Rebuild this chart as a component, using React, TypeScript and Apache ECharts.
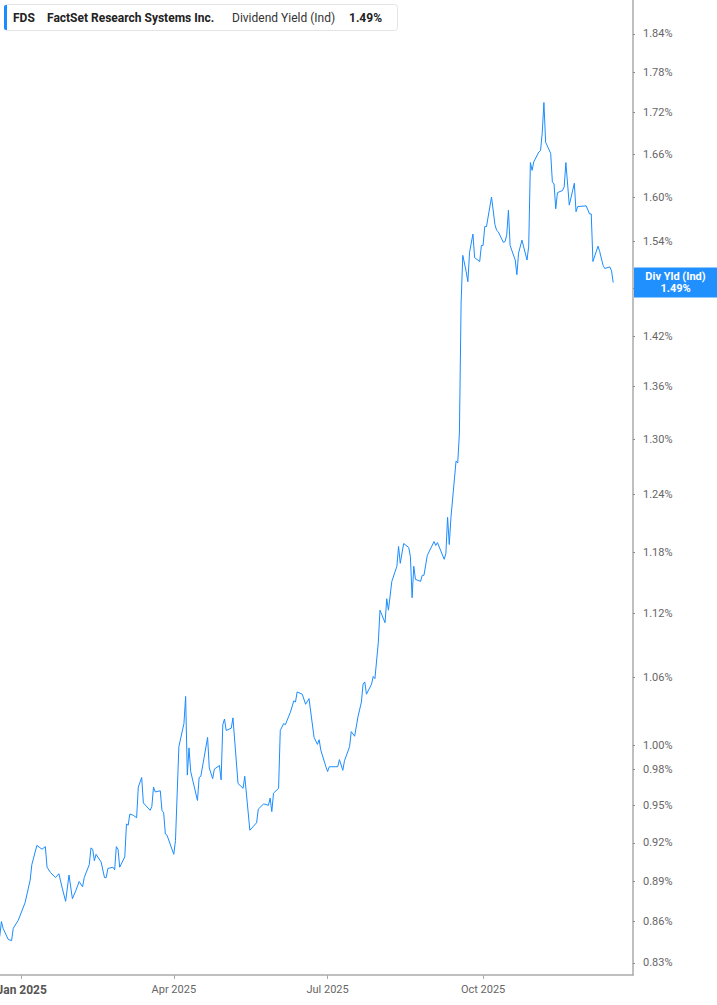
import React, { useEffect, useRef } from 'react';
import * as echarts from 'echarts';

const dates: string[] = [
  '2024-12-19','2024-12-20','2024-12-21','2024-12-24','2024-12-26','2024-12-27','2024-12-30',
  '2025-01-03','2025-01-06','2025-01-07','2025-01-10','2025-01-13','2025-01-15','2025-01-16','2025-01-18',
  '2025-01-21','2025-01-23','2025-01-25','2025-01-27','2025-01-29','2025-01-31',
  '2025-02-02','2025-02-04','2025-02-06','2025-02-07','2025-02-10','2025-02-11','2025-02-12','2025-02-13','2025-02-14',
  '2025-02-17','2025-02-19','2025-02-20','2025-02-21','2025-02-24','2025-02-25','2025-02-26','2025-02-27','2025-02-28',
  '2025-03-03','2025-03-04','2025-03-05','2025-03-06','2025-03-08','2025-03-10','2025-03-11','2025-03-13','2025-03-14',
  '2025-03-18','2025-03-19','2025-03-20','2025-03-21','2025-03-24','2025-03-25','2025-03-26','2025-03-27','2025-03-28',
  '2025-04-01','2025-04-02','2025-04-04','2025-04-07','2025-04-08','2025-04-09','2025-04-10','2025-04-11',
  '2025-04-15','2025-04-16','2025-04-17','2025-04-21','2025-04-22','2025-04-24','2025-04-25','2025-04-28','2025-04-29','2025-04-30',
  '2025-05-01','2025-05-02','2025-05-05','2025-05-06','2025-05-09','2025-05-12','2025-05-13','2025-05-16','2025-05-18',
  '2025-05-20','2025-05-21','2025-05-24','2025-05-25','2025-05-27','2025-05-28','2025-05-29','2025-05-30',
  '2025-06-02','2025-06-03','2025-06-05','2025-06-06','2025-06-09','2025-06-11','2025-06-12','2025-06-13','2025-06-16',
  '2025-06-18','2025-06-20','2025-06-23','2025-06-25','2025-06-26','2025-06-27','2025-06-30',
  '2025-07-01','2025-07-02','2025-07-07','2025-07-08','2025-07-10','2025-07-11','2025-07-14','2025-07-15','2025-07-17',
  '2025-07-19','2025-07-21','2025-07-22','2025-07-23','2025-07-24','2025-07-27','2025-07-28','2025-07-29','2025-07-31',
  '2025-08-01','2025-08-04','2025-08-05','2025-08-06','2025-08-08','2025-08-11','2025-08-12','2025-08-13','2025-08-15',
  '2025-08-18','2025-08-19','2025-08-20','2025-08-21','2025-08-22','2025-08-25','2025-08-26','2025-08-27','2025-08-29',
  '2025-09-02','2025-09-03','2025-09-04','2025-09-08','2025-09-09','2025-09-10','2025-09-11','2025-09-12',
  '2025-09-15','2025-09-16','2025-09-17','2025-09-18','2025-09-19','2025-09-21','2025-09-22','2025-09-23','2025-09-25',
  '2025-09-26','2025-09-29','2025-09-30',
  '2025-10-01','2025-10-02','2025-10-03','2025-10-06','2025-10-08','2025-10-09','2025-10-10','2025-10-13','2025-10-14',
  '2025-10-15','2025-10-16','2025-10-17','2025-10-20','2025-10-21','2025-10-22','2025-10-24','2025-10-27','2025-10-28',
  '2025-10-29','2025-10-30','2025-10-31',
  '2025-11-03','2025-11-04','2025-11-05','2025-11-06','2025-11-07','2025-11-10','2025-11-11','2025-11-12','2025-11-13',
  '2025-11-14','2025-11-17','2025-11-18','2025-11-19','2025-11-21','2025-11-24','2025-11-25','2025-11-26',
  '2025-12-01','2025-12-03','2025-12-04','2025-12-05','2025-12-08','2025-12-09','2025-12-11','2025-12-12','2025-12-15',
  '2025-12-16','2025-12-17',
];

const yields: number[] = [
  0.849,0.860,0.855,0.847,0.846,0.855,0.861,
  0.874,0.891,0.903,0.918,0.915,0.917,0.901,0.897,
  0.893,0.896,0.885,0.875,0.895,0.877,
  0.883,0.890,0.886,0.893,0.903,0.916,0.915,0.906,0.911,
  0.905,0.893,0.893,0.900,0.901,0.899,0.917,0.915,0.901,
  0.909,0.935,0.934,0.943,0.942,0.940,0.965,0.973,0.952,
  0.946,0.949,0.965,0.961,0.962,0.946,0.944,0.927,0.926,
  0.911,0.922,0.999,1.019,1.043,0.975,0.998,0.978,
  0.954,0.973,0.974,1.007,0.981,0.972,0.980,0.983,0.971,1.018,
  1.023,1.013,1.015,1.024,0.968,0.964,0.974,0.930,0.933,
  0.936,0.947,0.951,0.951,0.950,0.956,0.945,0.960,
  0.964,1.013,1.019,1.018,1.029,1.039,1.038,1.047,1.045,
  1.036,1.041,1.007,1.001,1.005,0.996,0.982,
  0.978,0.982,0.982,0.988,0.979,0.987,0.999,1.012,1.008,
  1.025,1.038,1.054,1.056,1.045,1.054,1.061,1.059,1.092,
  1.123,1.111,1.134,1.123,1.151,1.166,1.186,1.169,1.189,
  1.185,1.176,1.135,1.166,1.153,1.151,1.157,1.157,1.177,
  1.191,1.187,1.190,1.173,1.179,1.216,1.188,1.216,
  1.276,1.274,1.307,1.461,1.522,1.501,1.488,1.526,1.550,
  1.519,1.514,1.535,
  1.535,1.560,1.560,1.600,1.563,1.555,1.553,1.539,1.540,
  1.549,1.582,1.535,1.516,1.497,1.525,1.542,1.516,1.534,
  1.648,1.637,1.649,
  1.663,1.665,1.690,1.735,1.677,1.661,1.621,1.618,1.584,
  1.606,1.609,1.614,1.648,1.589,1.619,1.580,1.587,
  1.588,1.577,1.577,1.514,1.534,1.527,1.509,1.505,1.507,
  1.502,1.487,
];

const yTickValues: number[] = [
  0.83, 0.86, 0.89, 0.92, 0.95, 0.98, 1.0, 1.06, 1.12, 1.18, 1.24,
  1.3, 1.36, 1.42, 1.48, 1.54, 1.6, 1.66, 1.72, 1.78, 1.84,
];
const xTickDates: string[] = ['2025-01-01', '2025-04-01', '2025-07-01', '2025-10-01'];
const monthNames: string[] = ['Jan','Feb','Mar','Apr','May','Jun','Jul','Aug','Sep','Oct','Nov','Dec'];

const ticker = 'FDS';
const companyName = 'FactSet Research Systems Inc.';
const metricName = 'Dividend Yield (Ind)';
const tagName = 'Div Yld (Ind)';
const shownValue = '1.49%';

const yMinValue = 0.8215;
const yMaxValue = 1.8943;
const xMin = Date.UTC(2024, 11, 19, 4);
const xMax = Date.UTC(2025, 11, 28, 17);

const BLUE = '#1a8cff';
const FONT = 'Roboto, "Noto Sans", sans-serif';

function utc(s: string): number {
  const [y, m, d] = s.split('-').map(Number);
  return Date.UTC(y, m - 1, d);
}

export default function App() {
  const ref = useRef<HTMLDivElement>(null);
  useEffect(() => {
    if (!ref.current) return;
    const chart = echarts.init(ref.current, null, { renderer: 'svg', width: 717, height: 1005 });
    const seriesData = dates.map((d, i) => [utc(d), Math.log(yields[i])]);
    const xTicks = xTickDates.map(utc);
    const yTicks = yTickValues.map((v) => Math.log(v));
    chart.setOption({
      animation: false,
      grid: { left: 0, right: 84, top: 0, bottom: 30, containLabel: false, outerBoundsMode: 'none' },
      xAxis: {
        type: 'value',
        min: xMin,
        max: xMax,
        axisLine: { show: true, onZero: false, lineStyle: { color: '#aaaaaa', width: 1.5 } },
        splitLine: { show: false },
        axisTick: { show: true, customValues: xTicks, length: 4, lineStyle: { color: '#aaaaaa', width: 1 } },
        axisLabel: {
          customValues: xTicks,
          margin: 9,
          color: '#666666',
          fontFamily: FONT,
          fontSize: 11,
          formatter: (v: number) => {
            const d = new Date(v);
            const m = d.getUTCMonth();
            const s = monthNames[m] + ' ' + d.getUTCFullYear();
            return m === 0 ? '{b|' + s + '}' : s;
          },
          rich: {
            b: { fontWeight: 'bold', fontSize: 12, color: '#555555', fontFamily: FONT },
          },
        },
      },
      yAxis: {
        type: 'value',
        position: 'right',
        min: Math.log(yMinValue),
        max: Math.log(yMaxValue),
        axisLine: { show: true, onZero: false, lineStyle: { color: '#aaaaaa', width: 1.5 } },
        splitLine: { show: false },
        axisTick: { show: true, customValues: yTicks, length: 2, lineStyle: { color: '#888888', width: 1 } },
        axisLabel: {
          customValues: yTicks,
          margin: 10,
          color: '#666666',
          fontFamily: FONT,
          fontSize: 11,
          formatter: (v: number) => Math.exp(v).toFixed(2) + '%',
        },
      },
      series: [
        {
          type: 'line',
          data: seriesData,
          symbol: 'none',
          showSymbol: false,
          silent: true,
          clip: true,
          lineStyle: { color: BLUE, width: 1 },
        },
      ],
    });

    const lastY = chart.convertToPixel({ yAxisIndex: 0 }, Math.log(yields[yields.length - 1])) as number;
    const axisX = chart.convertToPixel({ xAxisIndex: 0 }, xMax) as number;
    const tagX = (axisX + 717) / 2 + 0.5;

    chart.setOption({
      graphic: [
        {
          type: 'rect',
          z: 100,
          shape: { x: 4.5, y: 4.5, width: 393, height: 26, r: 3 },
          style: { fill: '#ffffff', stroke: '#e4e4e4', lineWidth: 1 },
        },
        {
          type: 'rect',
          z: 101,
          shape: { x: 4, y: 5, width: 3, height: 25, r: [2, 0, 0, 2] },
          style: { fill: BLUE },
        },
        {
          type: 'text',
          z: 101,
          x: 13,
          y: 17.5,
          style: { text: ticker, fill: '#222222', font: 'bold 12px ' + FONT, verticalAlign: 'middle' },
        },
        {
          type: 'text',
          z: 101,
          x: 47,
          y: 17.5,
          style: { text: companyName, fill: '#222222', font: 'bold 12px ' + FONT, verticalAlign: 'middle' },
        },
        {
          type: 'text',
          z: 101,
          x: 232,
          y: 17.5,
          style: { text: metricName, fill: '#333333', font: '12px ' + FONT, verticalAlign: 'middle' },
        },
        {
          type: 'text',
          z: 101,
          x: 349,
          y: 17.5,
          style: { text: shownValue, fill: '#222222', font: 'bold 12px ' + FONT, verticalAlign: 'middle' },
        },
        {
          type: 'rect',
          z: 100,
          shape: { x: axisX + 1, y: lastY - 15, width: 717 - axisX - 1, height: 30 },
          style: { fill: '#2190ff' },
        },
        {
          type: 'text',
          z: 101,
          x: tagX,
          y: lastY - 6,
          style: { text: tagName, fill: '#ffffff', font: 'bold 11px ' + FONT, align: 'center', verticalAlign: 'middle' },
        },
        {
          type: 'text',
          z: 101,
          x: tagX,
          y: lastY + 5.5,
          style: { text: shownValue, fill: '#ffffff', font: 'bold 11px ' + FONT, align: 'center', verticalAlign: 'middle' },
        },
      ],
    });
    return () => chart.dispose();
  }, []);
  return <div ref={ref} style={{ position: 'absolute', left: 0, top: 0, width: 717, height: 1005 }} />;
}
